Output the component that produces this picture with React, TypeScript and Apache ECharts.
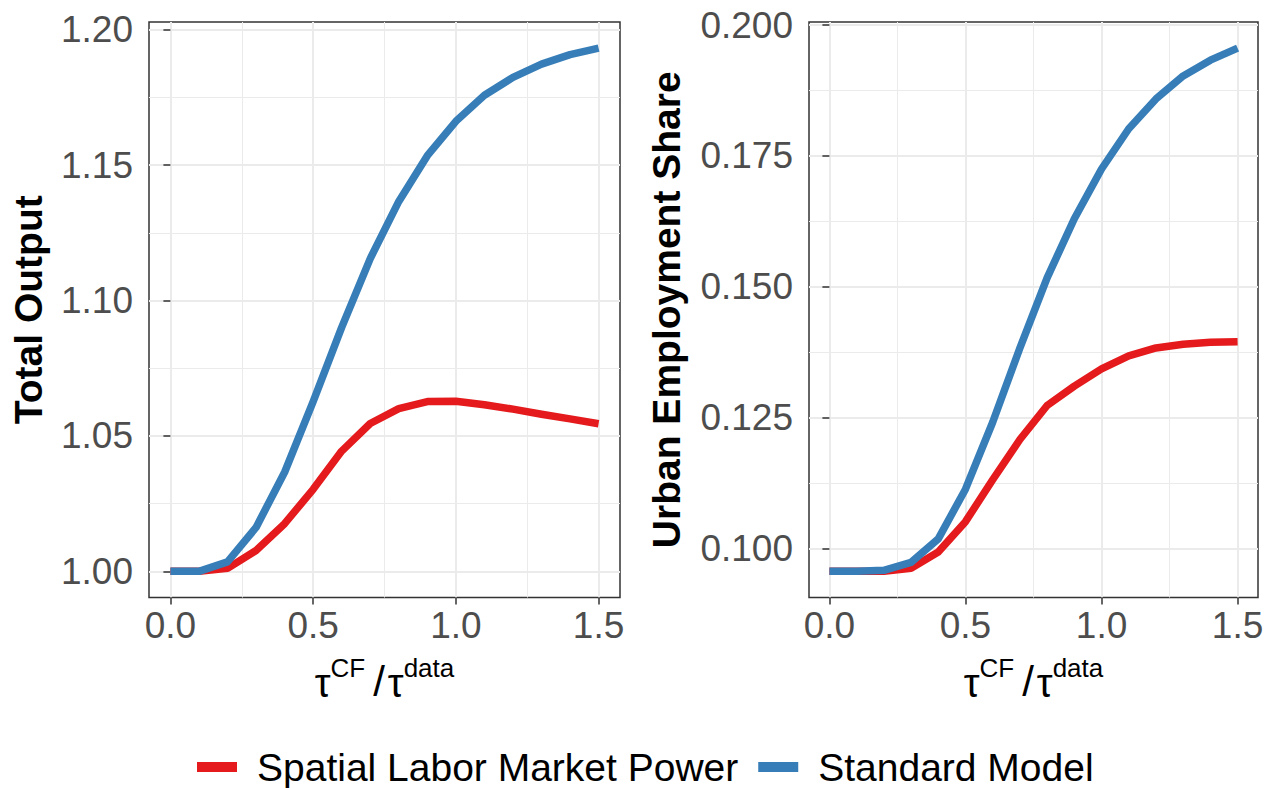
import React, { useEffect, useRef } from "react";
import * as echarts from "echarts";

const tauRatio = [0, 0.1, 0.2, 0.3, 0.4, 0.5, 0.6, 0.7, 0.8, 0.9, 1.0, 1.1, 1.2, 1.3, 1.4, 1.5];
const outputSLMP = [1.0, 1.0, 1.0011, 1.0077, 1.0176, 1.0303, 1.0444, 1.0546, 1.0601, 1.0627, 1.0628, 1.0615, 1.0599, 1.058, 1.0563, 1.0545];
const outputStandard = [1.0, 1.0, 1.0035, 1.0162, 1.0366, 1.0627, 1.0901, 1.1155, 1.1366, 1.1535, 1.1662, 1.1758, 1.1824, 1.1873, 1.1908, 1.1932];
const urbanSLMP = [0.0956, 0.0956, 0.0956, 0.0962, 0.0993, 0.1051, 0.1131, 0.1208, 0.1273, 0.131, 0.1343, 0.1368, 0.1383, 0.139, 0.1394, 0.1395];
const urbanStandard = [0.0956, 0.0956, 0.0958, 0.0973, 0.1018, 0.1113, 0.1241, 0.1383, 0.1517, 0.163, 0.1725, 0.1802, 0.1859, 0.1903, 0.1933, 0.1956];

const xTicks = [0, 0.5, 1.0, 1.5];
const xMinor = [0.25, 0.75, 1.25];
const outputTicks = [1.0, 1.05, 1.1, 1.15, 1.2];
const outputMinor = [1.025, 1.075, 1.125, 1.175];
const urbanTicks = [0.1, 0.125, 0.15, 0.175, 0.2];
const urbanMinor = [0.1125, 0.1375, 0.1625, 0.1875];

const seriesNames = ["Spatial Labor Market Power", "Standard Model"];
const colors = ["#E41A1C", "#377EB8"];

const FONT = "'Liberation Sans', Arial, Helvetica, sans-serif";
const GRID = "#EBEBEB";
const DARK = "#333333";

function pairs(ys: number[]) {
  return tauRatio.map((x, i) => [x, ys[i]]);
}

export default function App() {
  const ref = useRef<HTMLDivElement>(null);
  useEffect(() => {
    if (!ref.current) return;
    const chart = echarts.init(ref.current, null, { renderer: "svg" });

    const majorX = (gridIndex: number) => ({
      type: "value",
      gridIndex,
      position: "bottom",
      min: -0.075,
      max: 1.575,
      axisLine: { show: false },
      axisTick: { show: true, customValues: xTicks, length: 7, lineStyle: { color: DARK, width: 1.5 } },
      axisLabel: {
        customValues: xTicks,
        formatter: (v: number) => v.toFixed(1),
        color: "#4D4D4D",
        fontSize: 37,
        fontFamily: FONT,
        margin: 9,
      },
      splitLine: { show: true, lineStyle: { color: GRID, width: 2 } },
      name: "{t|τ}{s|CF}{sl|/}{t|τ}{s|data}",
      nameLocation: "middle",
      nameGap: 57,
      nameTextStyle: {
        fontFamily: FONT,
        color: "#000",
        rich: {
          t: { fontSize: 40, lineHeight: 48, verticalAlign: "bottom", fontFamily: FONT, color: "#000" },
          sl: { fontSize: 42, lineHeight: 48, verticalAlign: "bottom", fontFamily: FONT, color: "#000", padding: [0, 3, 0, 8] },
          s: { fontSize: 26, lineHeight: 25, verticalAlign: "top", fontFamily: FONT, color: "#000" },
        },
      },
    });
    const minorX = (gridIndex: number) => ({
      type: "value",
      gridIndex,
      position: "bottom",
      min: -0.075,
      max: 1.575,
      axisLine: { show: false },
      axisTick: { show: false, customValues: xMinor },
      axisLabel: { show: false, customValues: xMinor },
      splitLine: { show: true, lineStyle: { color: GRID, width: 1 } },
    });
    const majorY = (gridIndex: number, min: number, max: number, ticks: number[], digits: number, name: string, gap: number) => ({
      type: "value",
      gridIndex,
      position: "left",
      min,
      max,
      axisLine: { show: false },
      axisTick: { show: true, customValues: ticks, length: 7, lineStyle: { color: DARK, width: 1.5 } },
      axisLabel: {
        customValues: ticks,
        formatter: (v: number) => v.toFixed(digits),
        color: "#4D4D4D",
        fontSize: 37,
        fontFamily: FONT,
        margin: 16,
      },
      splitLine: { show: true, lineStyle: { color: GRID, width: 2 } },
      name,
      nameLocation: "middle",
      nameGap: gap,
      nameTextStyle: { fontFamily: FONT, fontSize: 39, fontWeight: "bold", color: "#000" },
    });
    const minorY = (gridIndex: number, min: number, max: number, ticks: number[]) => ({
      type: "value",
      gridIndex,
      position: "left",
      min,
      max,
      axisLine: { show: false },
      axisTick: { show: false, customValues: ticks },
      axisLabel: { show: false, customValues: ticks },
      splitLine: { show: true, lineStyle: { color: GRID, width: 1 } },
    });

    const outMin = 0.99034, outMax = 1.20286;
    const urbMin = 0.0906, urbMax = 0.2006;

    const line = (name: string, color: string, xi: number, yi: number, data: number[]) => ({
      type: "line",
      name,
      xAxisIndex: xi,
      yAxisIndex: yi,
      data: pairs(data),
      showSymbol: false,
      symbol: "none",
      lineStyle: { color, width: 7.5, cap: "butt", join: "round" },
      itemStyle: { color },
      z: 5,
    });

    const gridBase = { show: true, borderColor: DARK, borderWidth: 1.5, backgroundColor: "transparent", containLabel: false, outerBoundsMode: "none" };

    chart.setOption({
      animation: false,
      backgroundColor: "#FFFFFF",
      grid: [
        { ...gridBase, left: 149, top: 22, width: 471, height: 575.5 },
        { ...gridBase, left: 809, top: 22, width: 449, height: 575.5 },
      ],
      xAxis: [minorX(0), majorX(0), minorX(1), majorX(1)],
      yAxis: [
        minorY(0, outMin, outMax, outputMinor),
        majorY(0, outMin, outMax, outputTicks, 2, "Total Output", 101),
        minorY(1, urbMin, urbMax, urbanMinor),
        majorY(1, urbMin, urbMax, urbanTicks, 3, "Urban Employment Share", 123),
      ],
      legend: {
        data: seriesNames,
        left: 197,
        top: 745,
        padding: 0,
        itemWidth: 40,
        itemHeight: 10,
        itemGap: 20,
        icon: "rect",
        textStyle: { fontFamily: FONT, fontSize: 39, color: "#000", padding: [0, 0, 0, 15], lineHeight: 44 },
      },
      series: [
        line(seriesNames[0], colors[0], 1, 1, outputSLMP),
        line(seriesNames[1], colors[1], 1, 1, outputStandard),
        line(seriesNames[0], colors[0], 3, 3, urbanSLMP),
        line(seriesNames[1], colors[1], 3, 3, urbanStandard),
      ],
    });
    return () => chart.dispose();
  }, []);
  return (
    <div
      ref={ref}
      style={{ position: "fixed", left: 0, top: 0, width: 1276, height: 788, background: "#fff" }}
    />
  );
}
